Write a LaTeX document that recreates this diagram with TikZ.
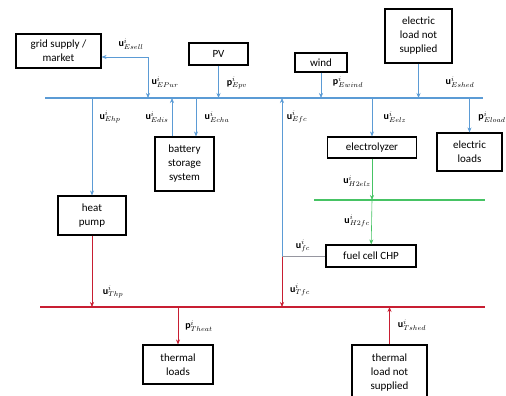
\documentclass[tikz,border=0pt]{standalone}
\usepackage{amsmath}
\usepackage{fontspec}
\setmainfont{Carlito}
\usetikzlibrary{arrows.meta,positioning}
\definecolor{BusBlue}{RGB}{91,155,213}
\definecolor{BusRed}{RGB}{200,30,50}
\definecolor{BusGreen}{RGB}{70,195,100}
\definecolor{LinkGrey}{RGB}{150,150,160}

\begin{document}
\begin{tikzpicture}[
    x=1pt, y=-1pt, font=\fontsize{11}{14}\selectfont,
    box/.style={draw, line width=1.1pt, align=center, inner sep=1pt},
    lbl/.style={font=\normalsize, inner sep=1pt},
    tip/.style={-{Stealth[length=5pt,width=4pt]}},
    earr/.style={tip, BusBlue, semithick},
    rarr/.style={tip, BusRed, semithick},
    garr/.style={tip, BusGreen, semithick}
  ]
    \useasboundingbox (0,0) rectangle (506,396);

    % buses
    \coordinate (eL) at (45,98);   \coordinate (eR) at (483,98);
    \coordinate (hL) at (314,200); \coordinate (hR) at (485,200);
    \coordinate (tL) at (40,307);  \coordinate (tR) at (485,307);
    \draw[BusBlue, line width=1.6pt] (eL) -- (eR);
    \draw[BusGreen, line width=1.6pt] (hL) -- (hR);
    \draw[BusRed, line width=1.6pt] (tL) -- (tR);

    % units
    \node[box, minimum width=85pt, minimum height=34pt] (grid) at (58.5,51)
         {grid supply /\\market};
    \node[box, minimum width=59pt, minimum height=22pt] (pv) at (218.5,54) {PV};
    \node[box, minimum width=52pt, minimum height=19pt] (wind) at (321,62.5) {wind};
    \node[box, minimum width=67pt, minimum height=54pt] (eshed) at (418.5,36)
         {electric\\load not\\supplied};
    \node[box, minimum width=59pt, minimum height=54pt] (bat) at (184.5,164)
         {battery\\storage\\system};
    \node[box, minimum width=68pt, minimum height=39pt] (hp) at (92,215.5)
         {heat\\pump};
    \node[box, minimum width=89pt, minimum height=21pt] (elz) at (372,147.5)
         {electrolyzer};
    \node[box, minimum width=65pt, minimum height=38pt] (eload) at (469.5,152)
         {electric\\loads};
    \node[box, minimum width=90pt, minimum height=22pt] (fc) at (371,256)
         {fuel cell CHP};
    \node[box, minimum width=70pt, minimum height=39pt] (tload) at (178,364.5)
         {thermal\\loads};
    \node[box, minimum width=75pt, minimum height=56pt] (tshed) at (389.5,373)
         {thermal\\load not\\supplied};

    % electric side
    \coordinate (gridTap) at (148,57);
    \draw[{Stealth[length=5pt,width=4pt]}-{Stealth[length=5pt,width=4pt]}, BusBlue, semithick]
         (grid.east |- gridTap) -- (gridTap) -- (gridTap |- eL);
    \draw[earr] (pv) -- (pv |- eL);
    \draw[earr] (wind) -- (wind |- eL);
    \draw[earr] (eshed) -- (eshed |- eL);
    \draw[earr] (hp |- eL) -- (hp);
    \draw[earr] (bat.north -| 172,0) -- (172,98);
    \draw[earr] (196,98) -- (bat.north -| 196,0);
    \draw[earr] (elz |- eL) -- (elz);
    \draw[earr] (eload |- eL) -- (eload);

    % fuel cell tap
    \coordinate (fcTap) at (282,256);
    \draw[earr] (fcTap) -- (fcTap |- eL);
    \draw[rarr] (fcTap) -- (fcTap |- tL);
    \draw[LinkGrey, semithick] (fcTap) -- (fc.west);

    % hydrogen side
    \draw[garr] (elz) -- (elz |- hL);
    \draw[garr] (elz |- hL) -- (fc);

    % thermal side
    \draw[rarr] (hp) -- (hp |- tL);
    \draw[rarr] (tload |- tL) -- (tload);
    \draw[rarr] (tshed) -- (tshed |- tL);

    % labels
    \node[lbl] (lEsell) at (131,44) {$\mathbf{u}^{i}_{Esell}$};
    \node[lbl] (lEpur) at (165,82) {$\mathbf{u}^{i}_{EPur}$};
    \node[lbl] (lEpv) at (237,83) {$\mathbf{p}^{i}_{Epv}$};
    \node[lbl] (lEwind) at (348,82) {$\mathbf{p}^{i}_{Ewind}$};
    \node[lbl] (lEshed) at (460,82) {$\mathbf{u}^{i}_{Eshed}$};
    \node[lbl] (lEhp) at (110,117) {$\mathbf{u}^{i}_{Ehp}$};
    \node[lbl] (lEdis) at (157,117) {$\mathbf{u}^{i}_{Edis}$};
    \node[lbl] (lEcha) at (217,117) {$\mathbf{u}^{i}_{Echa}$};
    \node[lbl] (lEfc) at (297,117) {$\mathbf{u}^{i}_{Efc}$};
    \node[lbl] (lEelz) at (395,117) {$\mathbf{u}^{i}_{Eelz}$};
    \node[lbl] (lEload) at (492,117) {$\mathbf{p}^{i}_{Eload}$};
    \node[lbl] (lHelz) at (357,181) {$\mathbf{u}^{i}_{H2elz}$};
    \node[lbl] (lHfc) at (357,221) {$\mathbf{u}^{i}_{H2fc}$};
    \node[lbl] (lfc) at (303,246) {$\mathbf{u}^{i}_{fc}$};
    \node[lbl] (lThp) at (113,292) {$\mathbf{u}^{i}_{Thp}$};
    \node[lbl] (lTfc) at (300,290) {$\mathbf{u}^{i}_{Tfc}$};
    \node[lbl] (lTheat) at (199,326) {$\mathbf{p}^{i}_{Theat}$};
    \node[lbl] (lTshed) at (412,325) {$\mathbf{u}^{i}_{Tshed}$};
  \end{tikzpicture}
\end{document}
